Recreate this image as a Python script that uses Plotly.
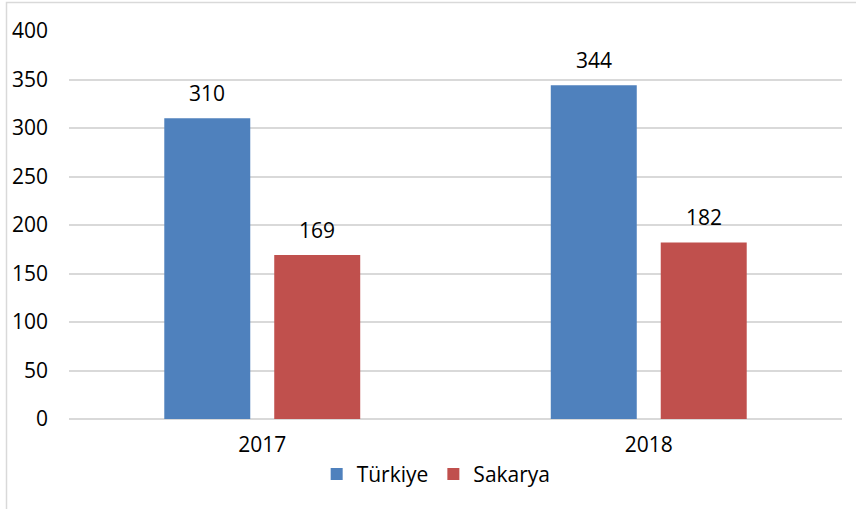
import plotly.graph_objects as go

categories = ["2017", "2018"]
turkiye = [310, 344]
sakarya = [169, 182]
series_names = ["Türkiye", "Sakarya"]
y_ticks = [0, 50, 100, 150, 200, 250, 300, 350, 400]

FONT = "Open Sans"
FS = 21
colors = ["#4F81BD", "#C0504D"]

fig = go.Figure()
for name, vals, col in zip(series_names, [turkiye, sakarya], colors):
    fig.add_trace(go.Bar(
        x=categories, y=vals, name=name, marker=dict(color=col, line=dict(width=0)),
    ))

W, H = 856, 509
L, R, T, B = 69, 14, 31, 90
pw, ph = W - L - R, H - T - B
bx = (6.5 - L) / pw
by = (H - B - 2.5) / ph

fig.update_layout(
    width=W, height=H,
    margin=dict(l=L, r=R, t=T, b=B, autoexpand=False),
    paper_bgcolor="white", plot_bgcolor="white",
    barmode="group", bargap=0.431, bargroupgap=0.218,
    font=dict(family=FONT, size=FS, color="#000000"),
    xaxis=dict(type="category", showgrid=False, showline=False, zeroline=False, ticks="",
               automargin=False, tickfont=dict(family=FONT, size=FS), ticklabelstandoff=11),
    yaxis=dict(range=[0, 400], tickvals=y_ticks, showgrid=True, gridcolor="#D9D9D9",
               gridwidth=1.5, zeroline=True, zerolinecolor="#D9D9D9", zerolinewidth=1.5,
               showline=False, ticks="", tickfont=dict(family=FONT, size=FS),
               ticklabelstandoff=20, automargin=False),
    legend=dict(orientation="h", x=0.475, xanchor="center", y=-0.09, yanchor="top",
                font=dict(family=FONT, size=FS), traceorder="normal"),
    showlegend=True,
)

# data labels above bars, offset like the reference
for i, vals in enumerate([turkiye, sakarya]):
    for j, v in enumerate(vals):
        fig.add_annotation(x=j, y=v, text=str(v), showarrow=False,
                           xref="x", yref="y", yanchor="bottom", yshift=9,
                           xshift=(-55 if i == 0 else 55),
                           font=dict(family=FONT, size=FS, color="#000000"))

fig.add_shape(type="rect", xref="paper", yref="paper", x0=bx, x1=1.2, y0=-0.5, y1=by,
              line=dict(color="#D9D9D9", width=1.5), fillcolor="rgba(0,0,0,0)", layer="below")

fig.write_html("out.html", config={"displayModeBar": False},
               post_script="document.body.style.margin='0px';document.body.style.overflow='hidden';")
